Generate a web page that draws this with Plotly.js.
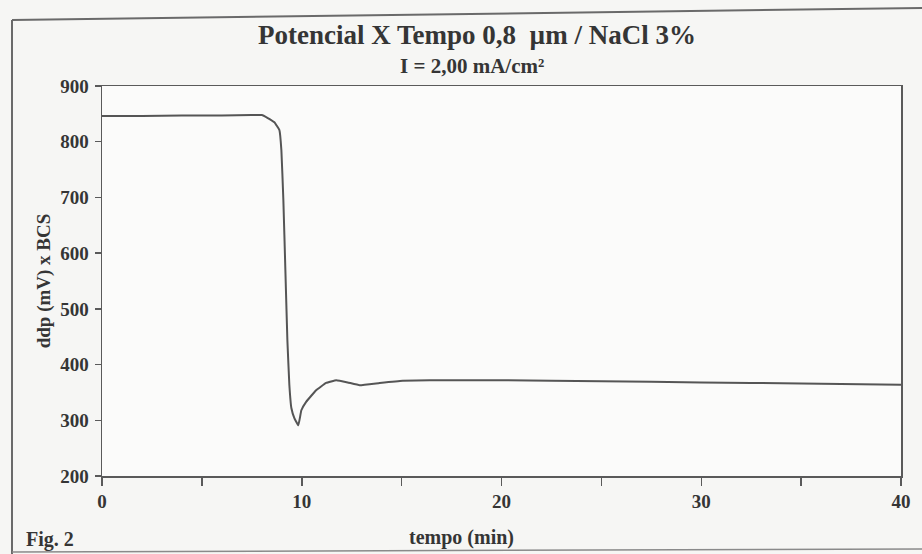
<!DOCTYPE html>
<html>
<head>
<meta charset="utf-8">
<script src="https://cdn.plot.ly/plotly-3.0.1.min.js"></script>
<style>html,body{margin:0;padding:0;background:#f6f6f4;}#chart{width:922px;height:554px;}</style>
</head>
<body>
<div id="chart"></div>
<script>
// Time (min) and potential ddp (mV) x BCS
const tempo = [0, 2, 4, 6, 7.5, 8.0, 8.28, 8.63, 8.88, 8.98, 9.08, 9.18, 9.28, 9.38, 9.48, 9.63, 9.83, 9.98, 10.22, 10.72, 11.22, 11.73, 12.3, 12.9, 13.9, 15.05, 16.4, 20, 25, 30, 35, 40];
const ddp   = [846, 846, 847, 847, 848, 848, 843, 835, 821, 785, 695, 570, 444, 363, 322, 304, 291, 318, 333, 354, 367, 372, 368, 363, 367, 371, 372, 372, 370, 368, 366, 364];

const xTickVals = [0, 5, 10, 15, 20, 25, 30, 35, 40];
const xTickText = ['0', '', '10', '', '20', '', '30', '', '40'];
const yTickVals = [200, 300, 400, 500, 600, 700, 800, 900];

const titleText = 'Potencial X Tempo 0,8  \u00b5m / NaCl 3%';
const subTitleText = 'I = 2,00 mA/cm\u00b2';
const xTitleText = 'tempo (min)';
const yTitleText = 'ddp (mV) x BCS';
const figText = 'Fig. 2';

const W = 922, H = 554;
const L = 102, R = 901, T = 86, B = 476;
const px = x => (x - L) / (R - L);
const py = y => (B - y) / (B - T);

const fam = '"Liberation Serif", "Times New Roman", serif';
const txt = '#353535';
const f = (size) => ({family: fam, size: size, color: txt, weight: 'bold'});
const ink = '#5a5a5a';

const trace = {
  x: tempo, y: ddp, type: 'scatter', mode: 'lines',
  line: {color: '#555555', width: 2, shape: 'spline', smoothing: 0.25},
  hoverinfo: 'x+y', showlegend: false
};

const layout = {
  width: W, height: H,
  margin: {l: L, r: W - R, t: T, b: H - B, pad: 0},
  paper_bgcolor: '#f6f6f4', plot_bgcolor: '#fbfbfa',
  font: f(19),
  title: {
    text: titleText,
    font: f(27),
    xref: 'paper', x: px(477), xanchor: 'center',
    yref: 'container', y: 1 - 35 / H, yanchor: 'middle'
  },
  xaxis: {
    range: [0, 40], tickvals: xTickVals, ticktext: xTickText,
    ticks: 'outside', ticklen: 8, tickwidth: 1.5, tickcolor: ink,
    showline: true, linecolor: ink, linewidth: 1.5, mirror: true,
    showgrid: false, zeroline: false, ticklabelstandoff: 0,
    tickfont: f(19),
    fixedrange: true
  },
  yaxis: {
    range: [200, 900], tickvals: yTickVals,
    ticks: 'outside', ticklen: 6, tickwidth: 1.5, tickcolor: ink,
    showline: true, linecolor: ink, linewidth: 1.5, mirror: true,
    showgrid: false, zeroline: false, ticklabelstandoff: 2,
    tickfont: f(19),
    title: {text: yTitleText, font: f(19), standoff: 4},
    fixedrange: true
  },
  annotations: [
    {text: subTitleText, xref: 'paper', yref: 'paper', x: px(472), y: py(66),
     xanchor: 'center', yanchor: 'middle', showarrow: false, font: f(21)},
    {text: xTitleText, xref: 'paper', yref: 'paper', x: px(461), y: py(537),
     xanchor: 'center', yanchor: 'middle', showarrow: false, font: f(20)},
    {text: figText, xref: 'paper', yref: 'paper', x: px(24), y: py(539),
     xanchor: 'left', yanchor: 'middle', showarrow: false, font: f(20)}
  ],
  shapes: [
    {type: 'line', xref: 'paper', yref: 'paper', x0: px(12), y0: py(20), x1: px(922), y1: py(8),
     line: {color: '#6a6a6a', width: 2}},
    {type: 'line', xref: 'paper', yref: 'paper', x0: px(12), y0: py(20), x1: px(12), y1: py(554),
     line: {color: '#6a6a6a', width: 2}},
    {type: 'line', xref: 'paper', yref: 'paper', x0: px(12), y0: py(552), x1: px(922), y1: py(549),
     line: {color: '#8a8a8a', width: 1.5}}
  ]
};

Plotly.newPlot('chart', [trace], layout, {displayModeBar: false, staticPlot: true});
</script>
</body>
</html>
